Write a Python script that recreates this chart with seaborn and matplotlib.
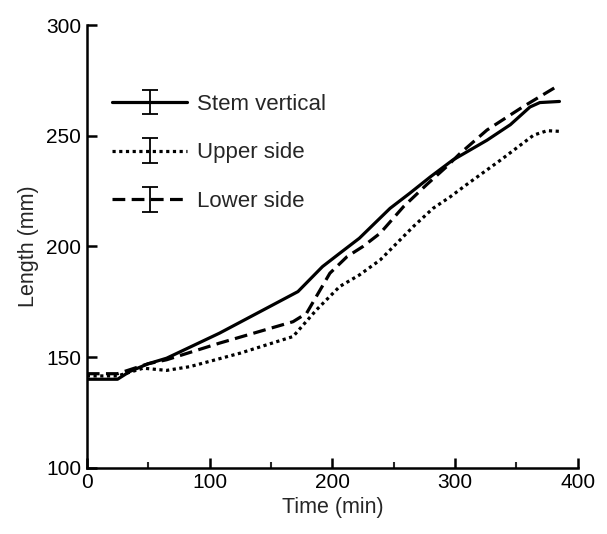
import numpy as np
import pandas as pd
import matplotlib
matplotlib.use("Agg")
import matplotlib.pyplot as plt
import seaborn as sns
from matplotlib.lines import Line2D
from matplotlib.collections import LineCollection
from matplotlib.container import ErrorbarContainer
from matplotlib.legend_handler import HandlerErrorbar
from matplotlib.ticker import MultipleLocator

# ---- data ----
stem_t = [0, 25, 35, 50, 65, 108, 172, 192, 206, 222, 247, 263, 280, 298, 326, 345, 361, 369, 385]
stem_L = [140, 140, 143.5, 147, 149.5, 160.8, 179.6, 190.9, 196.9, 203.7, 217.2, 224, 231.5, 239, 248, 255, 263, 265, 265.5]

upper_t = [0, 25, 46, 65, 84, 125, 168, 187, 206, 222, 239, 266, 282, 296, 309, 337, 364, 375, 385]
upper_L = [141.5, 141.5, 145, 144, 145.7, 151.8, 159.3, 171.3, 181.9, 187.1, 193.9, 209, 217.2, 222.4, 227.8, 239, 250.3, 252.3, 252]

lower_t = [0, 25, 50, 65, 108, 168, 179, 198, 212, 225, 239, 258, 277, 293, 304, 326, 355, 385]
lower_L = [142.5, 142.5, 147, 148.8, 156.3, 166, 169.8, 187.9, 195.4, 200, 206, 218, 228, 236, 242, 252.6, 263, 273]

series_names = ["Stem vertical", "Upper side", "Lower side"]
x_ticks = [0, 100, 200, 300, 400]
y_ticks = [100, 150, 200, 250, 300]

df = pd.concat([
    pd.DataFrame({"Time": stem_t, "Length": stem_L, "Series": series_names[0]}),
    pd.DataFrame({"Time": upper_t, "Length": upper_L, "Series": series_names[1]}),
    pd.DataFrame({"Time": lower_t, "Length": lower_L, "Series": series_names[2]}),
], ignore_index=True)

# ---- style ----
sns.set_style("ticks")
plt.rcParams["font.family"] = ["Liberation Sans", "DejaVu Sans"]

LW = 2.3
dash_map = {
    "Stem vertical": "",
    "Upper side": (1, 1.1),
    "Lower side": (4, 2),
}

fig = plt.figure(figsize=(6.07, 5.34), dpi=100)
ax = fig.add_axes([0.143, 0.124, 0.809, 0.829])

sns.lineplot(data=df, x="Time", y="Length", hue="Series", style="Series",
             palette={n: "black" for n in series_names}, dashes=dash_map,
             linewidth=LW, sort=False, estimator=None, legend=False, ax=ax)

ax.set_xlim(0, 400)
ax.set_ylim(100, 300)
ax.set_xticks(x_ticks)
ax.set_yticks(y_ticks)
ax.xaxis.set_minor_locator(MultipleLocator(50))
ax.tick_params(axis="both", which="major", direction="in", length=7, width=1.8,
               labelsize=15, colors="black", pad=4)
ax.tick_params(axis="x", which="minor", direction="in", length=4.5, width=1.5)
ax.set_xlabel("Time (min)", fontsize=15.5, labelpad=3)
ax.set_ylabel("Length (mm)", fontsize=15.5, labelpad=5)
for s in ["top", "right"]:
    ax.spines[s].set_visible(False)
for s in ["left", "bottom"]:
    ax.spines[s].set_linewidth(1.8)
    ax.spines[s].set_color("black")

# ---- legend with error-bar handles ----
handles = []
for name in series_names:
    d = dash_map[name]
    line = Line2D([], [], color="black", lw=LW)
    if d:
        line.set_dashes(d)
    cap = Line2D([], [], marker="_", markersize=12, markeredgewidth=1.3,
                 color="black", linestyle="none")
    bar = LineCollection([], colors="black", linewidths=1.3)
    handles.append(ErrorbarContainer((line, (cap, cap), (bar,)),
                                     has_xerr=False, has_yerr=True, label=name))

ax.legend(handles=handles, labels=series_names, loc="upper left",
          bbox_to_anchor=(0.051, 0.845), frameon=False, fontsize=16,
          handlelength=3.4, handletextpad=0.45, labelspacing=1.25,
          borderpad=0, borderaxespad=0,
          handler_map={ErrorbarContainer: HandlerErrorbar(yerr_size=0.55)})

fig.savefig("out.png", dpi=100)
